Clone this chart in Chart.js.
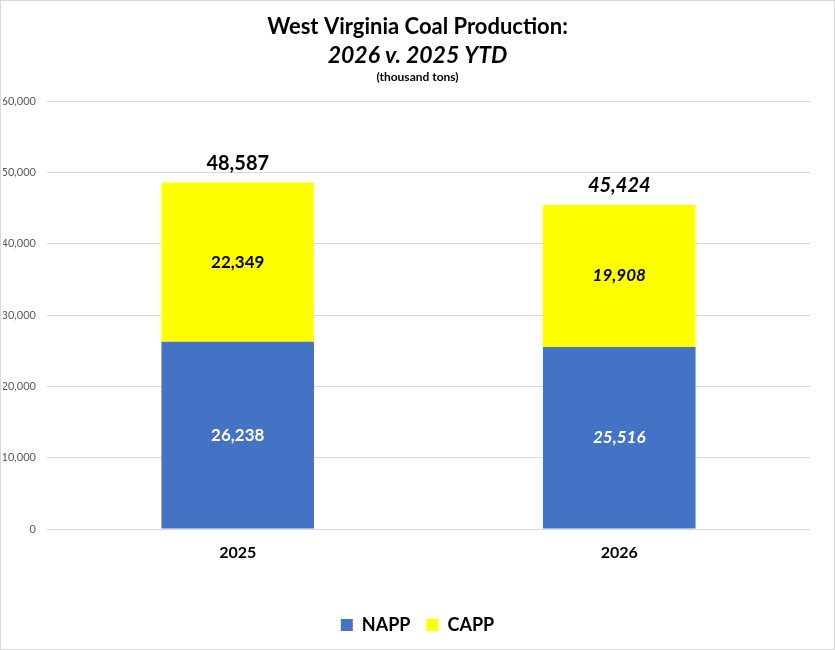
<!DOCTYPE html>
<html>
<head>
<meta charset="utf-8">
<title>West Virginia Coal Production</title>
<script src="https://cdn.jsdelivr.net/npm/chart.js@4.4.1/dist/chart.umd.min.js"></script>
<style>
    body { margin: 0; background: #fff; }
    #wrap { position: relative; width: 833px; height: 648px; border: 1px solid #d9d9d9; }
</style>
</head>
<body>
<div id="wrap"><canvas id="coalChart"></canvas></div>
<script>
const years = ["2025", "2026"];
const nappValues = [26238, 25516];
const cappValues = [22349, 19908];
const yTickValues = [0, 10000, 20000, 30000, 40000, 50000, 60000];
const titleLines = ["West Virginia Coal Production:", "2026 v. 2025 YTD", "(thousand tons)"];

const FONT = "Lato, 'Open Sans', sans-serif";

function fmt(v) {
    return v.toLocaleString("en-US");
}

// three title lines, each in its own style
const titlePlugin = {
    id: "titleLines",
    afterDraw(chart) {
        const ctx = chart.ctx;
        const cx = chart.width / 2;
        ctx.save();
        ctx.fillStyle = "#000";
        ctx.textAlign = "center";
        ctx.textBaseline = "middle";
        ctx.font = "bold 22px " + FONT;
        ctx.fillText(titleLines[0], cx, 26);
        ctx.font = "italic bold 23px " + FONT;
        ctx.fillText(titleLines[1], cx, 55);
        ctx.font = "bold 12px " + FONT;
        ctx.fillText(titleLines[2], cx, 76);
        ctx.restore();
    }
};

// value labels inside segments and totals on top
const barLabels = {
    id: "barLabels",
    afterDatasetsDraw(chart) {
        const ctx = chart.ctx;
        ctx.save();
        ctx.textAlign = "center";
        ctx.textBaseline = "middle";
        chart.data.datasets.forEach((ds, di) => {
            const meta = chart.getDatasetMeta(di);
            meta.data.forEach((bar, i) => {
                const italic = i === 1 ? "italic " : "";
                ctx.font = italic + "bold 17px " + FONT;
                ctx.fillStyle = di === 0 ? "#fff" : "#000";
                ctx.fillText(fmt(ds.data[i]), bar.x, (bar.y + bar.base) / 2);
            });
        });
        const topMeta = chart.getDatasetMeta(chart.data.datasets.length - 1);
        topMeta.data.forEach((bar, i) => {
            const total = nappValues[i] + cappValues[i];
            const italic = i === 1 ? "italic " : "";
            ctx.font = italic + "bold 20px " + FONT;
            ctx.fillStyle = "#000";
            ctx.fillText(fmt(total), bar.x, bar.y - 19);
        });
        ctx.restore();
    }
};

const ctx = document.getElementById("coalChart").getContext("2d");

new Chart(ctx, {
    type: "bar",
    data: {
        labels: years,
        datasets: [
            {
                label: "NAPP",
                data: nappValues,
                backgroundColor: "#4472C4",
                categoryPercentage: 1,
                barPercentage: 0.4
            },
            {
                label: "CAPP",
                data: cappValues,
                backgroundColor: "#FFFF00",
                categoryPercentage: 1,
                barPercentage: 0.4
            }
        ]
    },
    options: {
        responsive: true,
        maintainAspectRatio: false,
        animation: false,
        layout: {
            padding: { top: 100, left: 2, right: 2, bottom: 5 }
        },
        scales: {
            x: {
                stacked: true,
                grid: { display: false },
                border: { display: false },
                ticks: {
                    color: "#000",
                    font: { family: FONT, size: 16, weight: "bold" },
                    padding: 6
                },
                afterFit(scale) { scale.height = 71; }
            },
            y: {
                stacked: true,
                min: yTickValues[0],
                max: yTickValues[yTickValues.length - 1],
                afterBuildTicks(scale) {
                    scale.ticks = yTickValues.map(v => ({ value: v }));
                },
                grid: { color: "#d9d9d9", drawTicks: false },
                border: { display: false },
                ticks: {
                    color: "#595959",
                    font: { family: FONT, size: 11 },
                    padding: 11,
                    callback: v => fmt(v)
                },
                afterFit(scale) { scale.width = 44; }
            },
            // empty right-hand spacer so the legend stays centred on the page
            spacer: {
                type: "linear",
                position: "right",
                grid: { display: false },
                border: { display: false },
                ticks: { display: false },
                afterFit(scale) { scale.width = 22; }
            }
        },
        plugins: {
            title: { display: false },
            tooltip: { enabled: false },
            legend: {
                position: "bottom",
                labels: {
                    color: "#000",
                    boxWidth: 12,
                    boxHeight: 12,
                    padding: 16,
                    font: { family: FONT, size: 18, weight: "bold" }
                }
            }
        }
    },
    plugins: [titlePlugin, barLabels]
});
</script>
</body>
</html>
